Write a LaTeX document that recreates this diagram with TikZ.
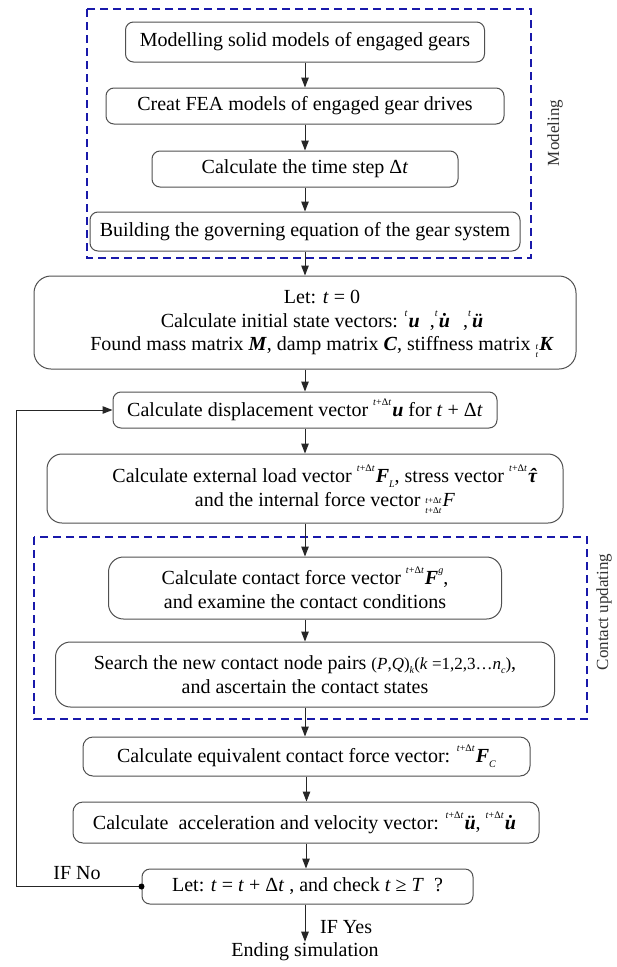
\documentclass[tikz,border=0pt]{standalone}
\usepackage{fontspec}
\setmainfont{Liberation Serif}
\usetikzlibrary{arrows.meta}
\definecolor{dashblue}{RGB}{25,25,170}
\definecolor{boxgray}{RGB}{80,80,80}
\newcommand\vb[1]{\textbf{\textit{#1}}}
\newcommand\ti[1]{\textit{#1}}
\newcommand\sps[1]{\raisebox{0.55em}{\fontsize{10}{10}\selectfont #1}\hspace{1pt}}
\newcommand\sbs[1]{\raisebox{-0.25em}{\fontsize{10}{10}\selectfont #1}}
\newcommand\rsp[1]{\raisebox{0.55em}{\fontsize{10}{10}\selectfont #1}}
\newcommand\stk[2]{\raisebox{-0.35em}{\fontsize{9}{10}\selectfont\shortstack{#1\\#2}}\hspace{1pt}}
\newcommand\tdt{\ti{t}+Δ\ti{t}}
\newcommand\udot{u̇}
\newcommand\tauhat{\accent"02C6 τ}
\tikzset{
  box/.style={draw=boxgray, line width=1pt, rounded corners=8pt, fill=white,
    font=\fontsize{20}{23.5}\selectfont, align=center, inner sep=0pt},
  txt/.style={font=\fontsize{20}{23.5}\selectfont, align=center, inner sep=0pt},
  arr/.style={draw=black!85, line width=1pt, -{Triangle[length=10pt,width=7.5pt]}},
  dbox/.style={draw=dashblue, line width=1.5pt, dash pattern=on 8pt off 5pt},
  side/.style={font=\fontsize{17}{20}\selectfont, rotate=90, inner sep=0pt, text=black!80},
}
\begin{document}
\begin{tikzpicture}[x=1pt,y=-1pt]
\fill[white] (0,0) rectangle (617,967);
\useasboundingbox (0,0) rectangle (617,967);

% dashed groups
\draw[dbox] (87,9) rectangle (531,258);
\draw[dbox] (34,537) rectangle (587,719);
\node[side] (lmod) at (555,133) {Modeling};
\node[side] (lcon) at (604,612) {Contact updating};

% boxes
\node[box, minimum width=359pt, minimum height=40pt] (b1) at (305,42) {Modelling solid models of engaged gears};
\node[box, minimum width=398pt, minimum height=36pt] (b2) at (305,106) {Creat FEA models of engaged gear drives};
\node[box, minimum width=306pt, minimum height=36pt] (b3) at (305,169) {Calculate the time step Δ\ti{t}};
\node[box, minimum width=430pt, minimum height=39pt] (b4) at (305,231.5) {Building the governing equation of the gear system};

\node[box, rounded corners=17pt, minimum width=542pt, minimum height=93pt] (b5) at (305,322.5) {};
\node[txt] (b5t) at (322,324) {Let: \ti{t} = 0\\
Calculate initial state vectors: \sps{\ti{t}}\vb{u}\ \ ,\sps{\ti{t}}\vb{\udot}\ \ ,\sps{\ti{t}}\vb{ü}\\
Found mass matrix \vb{M}, damp matrix \vb{C}, stiffness matrix \stk{\ti{t}}{\ti{t}}\vb{K}};

\node[box, minimum width=384pt, minimum height=36pt] (b6) at (305,410) {Calculate displacement vector \sps{\tdt}\vb{u} for \ti{t} + Δ\ti{t}};

\node[box, rounded corners=15pt, minimum width=516pt, minimum height=69pt] (b7) at (305,488.5) {};
\node[txt] (b7t) at (325,489) {Calculate external load vector \sps{\tdt}\vb{F}\sbs{\ti{L}}, stress vector \sps{\tdt}\vb{\tauhat}\\
and the internal force vector \stk{\tdt}{\tdt}\ti{F}};

\node[box, rounded corners=15pt, minimum width=393pt, minimum height=62pt] (b8) at (305,588) {Calculate contact force vector \sps{\tdt}\vb{F}\rsp{\ti{g}},\\ and examine the contact conditions};
\node[box, rounded corners=15pt, minimum width=499pt, minimum height=65pt] (b9) at (305,674.5) {Search the new contact node pairs {\fontsize{17}{20}\selectfont (\ti{P},\ti{Q})\sbs{\ti{k}}(\ti{k} =1,2,3…\ti{n}\sbs{\ti{c}})},\\ and ascertain the contact states};
\node[box, rounded corners=10pt, minimum width=447pt, minimum height=39pt] (b10) at (306.5,756.5) {Calculate equivalent contact force vector: \sps{\tdt}\vb{F}\sbs{\ti{C}}};
\node[box, rounded corners=10pt, minimum width=466pt, minimum height=41pt] (b11) at (306,822.5) {Calculate\ \ acceleration and velocity vector: \sps{\tdt}\vb{ü}, \sps{\tdt}\vb{\udot}};
\node[box, minimum width=331pt, minimum height=35pt] (b12) at (307.5,886.5) {Let: \ti{t} = \ti{t} + Δ\ti{t} , and check \ti{t} ≥ \ti{T} \ ?};

\node[txt, inner sep=1pt] (endn) at (305,952) {Ending simulation};
\node[txt, anchor=west] (yes) at (320,927) {IF Yes};
\node[txt] (no) at (77,873) {IF No};

% connectors
\draw[arr] (b1.south) -- (b1.south |- b2.north);
\draw[arr] (b2.south) -- (b2.south |- b3.north);
\draw[arr] (b3.south) -- (b3.south |- b4.north);
\draw[arr] (b4.south) -- (b4.south |- b5.north);
\draw[arr] (b5.south) -- (b5.south |- b6.north);
\draw[arr] (b6.south) -- (b6.south |- b7.north);
\draw[arr] (b7.south) -- (b7.south |- b8.north);
\draw[arr] (b8.south) -- (b8.south |- b9.north);
\draw[arr] (b9.south) -- (b9.south |- b10.north);
\draw[arr] (b10.south) -- (b10.south |- b11.north);
\draw[arr] (b11.south) -- (b11.south |- b12.north);
\draw[arr] (b12.south -| endn.north) -- (endn.north);

\coordinate (fl) at (16,887);
\draw[arr] (b12.west) -- (b12.west -| fl) |- (b6.west);
\fill[black] (b12.west) circle (3pt);
\end{tikzpicture}
\end{document}
